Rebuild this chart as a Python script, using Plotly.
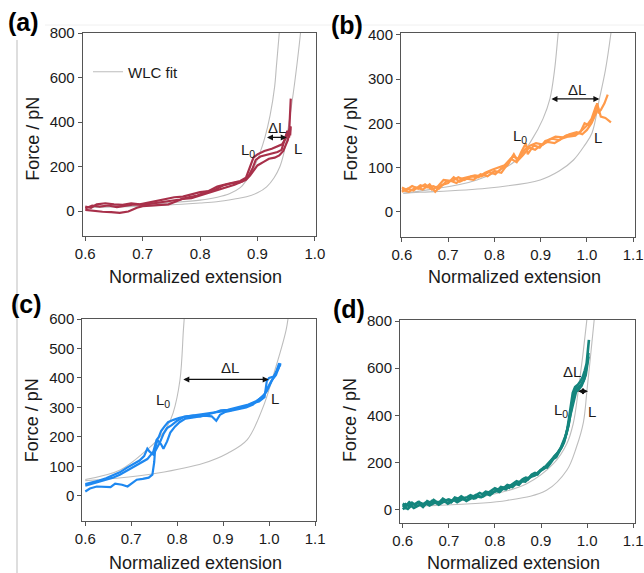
import plotly.graph_objects as go

W, H = 644, 573

# ---------------- DATA ----------------
# Panel (a) - dark red traces
a1_x = [0.600,0.615,0.630,0.645,0.660,0.675,0.690,0.700,0.715,0.730,0.745,0.760,0.770,0.785,0.800,0.815,0.830,0.845,0.860,0.875,0.885,0.892,0.897,0.905,0.915,0.925,0.935,0.942,0.948,0.952,0.955,0.957,0.958]
a1_y = [5,0,-3,-5,-8,-2,15,22,25,28,30,45,55,58,70,80,95,105,118,135,160,195,230,245,252,258,265,275,320,360,340,420,505]
a2_x = [0.600,0.610,0.620,0.635,0.650,0.665,0.680,0.695,0.710,0.725,0.740,0.755,0.770,0.785,0.800,0.815,0.830,0.845,0.860,0.870,0.880,0.888,0.893,0.900,0.912,0.925,0.935,0.943,0.950,0.955,0.958,0.957]
a2_y = [20,15,30,35,30,28,35,30,38,45,55,62,65,75,85,90,110,120,130,135,150,200,240,255,270,280,290,300,330,365,380,340]
a3_x = [0.600,0.612,0.625,0.640,0.655,0.670,0.685,0.700,0.720,0.735,0.750,0.765,0.780,0.795,0.810,0.825,0.840,0.855,0.870,0.880,0.887,0.893,0.900,0.910,0.920,0.930,0.938,0.945,0.950,0.953,0.955,0.957,0.955]
a3_y = [12,25,20,25,18,25,30,28,35,40,45,52,62,70,85,95,115,125,130,140,160,180,205,220,235,240,250,270,300,320,350,370,330]
a_wlc0_x = [0.600,0.680,0.750,0.800,0.830,0.852,0.870,0.881,0.893,0.904,0.913,0.922,0.930,0.933,0.938,0.940]
a_wlc0_y = [19,27,38,49,62,79,105,139,190,259,331,430,560,650,800,860]
a_wlc1_x = [0.600,0.700,0.742,0.800,0.829,0.860,0.881,0.900,0.916,0.929,0.939,0.946,0.951,0.958,0.966,0.975,0.977]
a_wlc1_y = [16,22,27,36,42,54,64,82,109,150,199,260,331,450,600,800,860]

# Panel (b) - orange traces
b1_x = [0.600,0.615,0.630,0.645,0.660,0.672,0.685,0.700,0.712,0.725,0.740,0.755,0.770,0.785,0.800,0.815,0.830,0.842,0.850,0.862,0.875,0.888,0.900,0.915,0.930,0.945,0.960,0.975,0.990,1.000,1.010,1.020,1.025,1.030,1.038,1.045]
b1_y = [50,45,55,50,62,45,60,65,78,68,75,72,85,80,92,88,110,130,115,128,145,140,150,158,155,165,170,172,185,195,210,240,225,230,245,265]
b2_x = [0.600,0.612,0.625,0.640,0.655,0.668,0.680,0.695,0.710,0.722,0.735,0.750,0.765,0.780,0.795,0.810,0.822,0.835,0.848,0.858,0.868,0.872,0.885,0.898,0.910,0.925,0.940,0.955,0.970,0.985,0.995,1.005,1.015,1.022,1.030,1.040,1.052]
b2_y = [45,52,48,60,55,58,52,68,70,78,72,80,78,88,95,100,105,120,112,135,155,130,150,145,160,165,162,172,175,178,200,195,215,245,215,212,202]
b3_x = [0.600,0.610,0.622,0.635,0.650,0.665,0.678,0.690,0.705,0.718,0.730,0.745,0.758,0.772,0.788,0.802,0.815,0.828,0.840,0.852,0.865,0.878,0.890,0.905,0.918,0.932,0.948,0.962,0.978,0.990,1.000,1.010,1.018,1.025]
b3_y = [55,50,58,52,62,50,58,72,70,65,75,78,82,80,90,85,98,105,125,120,140,150,155,152,163,170,168,175,180,175,185,200,220,235]
b_wlc0_x = [0.603,0.660,0.762,0.848,0.881,0.905,0.920,0.930,0.938,0.942]
b_wlc0_y = [42,50,72,117,163,210,255,320,404,440]
b_wlc1_x = [0.603,0.639,0.783,0.899,0.940,0.971,0.995,1.011,1.027,1.040,1.052,1.056]
b_wlc1_y = [42,44,53,72,92,117,150,178,255,320,404,440]

# Panel (c) - blue traces
c1_x = [0.600,0.610,0.625,0.640,0.655,0.665,0.680,0.692,0.700,0.712,0.725,0.738,0.746,0.750,0.752,0.757,0.765,0.770,0.778,0.785,0.795,0.805,0.818,0.830,0.845,0.860,0.875,0.885,0.893,0.905,0.920,0.935,0.950,0.965,0.980,0.990,0.998,1.005,1.015,1.022,1.025]
c1_y = [15,25,32,30,30,42,38,32,40,55,58,62,72,115,160,190,175,160,185,215,235,250,262,265,270,272,270,255,275,285,290,295,300,310,330,345,370,390,410,440,445]
c2_x = [0.600,0.615,0.630,0.645,0.660,0.675,0.690,0.705,0.718,0.728,0.735,0.740,0.748,0.755,0.762,0.770,0.778,0.788,0.800,0.815,0.830,0.845,0.860,0.875,0.890,0.905,0.920,0.935,0.950,0.965,0.978,0.990,0.995,1.000,1.010,1.020,1.025]
c2_y = [40,45,52,60,70,80,95,110,120,135,160,150,140,160,180,210,230,240,255,268,272,275,278,282,285,288,292,300,305,315,320,335,390,400,405,430,450]
c3_x = [0.600,0.615,0.630,0.645,0.660,0.675,0.690,0.705,0.720,0.735,0.748,0.755,0.760,0.765,0.772,0.780,0.792,0.805,0.820,0.835,0.850,0.865,0.880,0.895,0.910,0.925,0.940,0.955,0.970,0.985,0.995,1.005,1.015,1.022]
c3_y = [35,42,50,55,62,72,85,98,112,125,150,190,200,220,235,250,258,265,270,272,270,275,282,290,292,298,305,310,320,335,355,385,420,450]
c_wlc0_x = [0.600,0.676,0.734,0.760,0.778,0.791,0.806,0.8135,0.817]
c_wlc0_y = [56,88,156,195,235,281,393,563,640]
c_wlc1_x = [0.600,0.668,0.755,0.857,0.910,0.952,0.987,1.006,1.037,1.044]
c_wlc1_y = [52,60,77,111,145,190,302,393,563,640]

# Panel (d) - teal traces
d1_x = [0.600,0.606,0.613,0.620,0.627,0.633,0.640,0.647,0.653,0.660,0.667,0.673,0.680,0.687,0.693,0.700,0.707,0.713,0.720,0.727,0.733,0.740,0.747,0.753,0.760,0.767,0.773,0.780,0.787,0.793,0.800,0.807,0.813,0.820,0.827,0.833,0.840,0.847,0.853,0.860,0.867,0.873,0.880,0.887,0.893,0.900,0.907,0.913,0.920,0.927,0.933,0.940,0.946,0.952,0.957,0.961,0.965,0.969,0.974,0.980,0.986,0.991,0.995,0.999,1.002,1.004]
d1_y = [10,22,14,28,18,30,26,20,35,28,40,32,30,45,38,42,36,50,45,55,48,52,60,55,62,70,64,75,72,80,90,84,95,92,104,100,112,120,115,128,135,132,148,155,150,168,180,178,195,215,222,245,270,300,340,390,440,495,520,530,545,565,590,620,680,720]
d2_x = [0.600,0.607,0.614,0.621,0.628,0.635,0.642,0.649,0.656,0.663,0.670,0.677,0.684,0.691,0.698,0.705,0.712,0.719,0.726,0.733,0.740,0.747,0.754,0.761,0.768,0.775,0.782,0.789,0.796,0.803,0.810,0.817,0.824,0.831,0.838,0.845,0.852,0.859,0.866,0.873,0.880,0.887,0.894,0.901,0.908,0.915,0.922,0.929,0.936,0.943,0.949,0.955,0.960,0.964,0.968,0.972,0.978,0.985,0.992,0.997,1.000,1.003]
d2_y = [25,15,30,20,24,32,18,28,22,35,28,25,38,32,40,30,44,38,48,42,40,52,46,58,52,55,66,60,72,78,74,88,85,98,95,108,104,120,118,132,140,145,158,165,175,190,205,225,240,262,290,320,360,410,460,500,515,525,545,570,610,650]
d3_x = [0.600,0.605,0.611,0.618,0.624,0.631,0.638,0.644,0.651,0.658,0.664,0.671,0.678,0.684,0.691,0.698,0.704,0.711,0.718,0.724,0.731,0.738,0.744,0.751,0.758,0.764,0.771,0.778,0.784,0.791,0.798,0.804,0.811,0.818,0.824,0.831,0.838,0.844,0.851,0.858,0.864,0.871,0.878,0.884,0.891,0.898,0.904,0.911,0.918,0.924,0.931,0.938,0.944,0.950,0.955,0.959,0.963,0.967,0.971,0.976,0.982,0.988,0.994,0.998,1.001,1.003]
d3_y = [0,8,2,15,6,12,20,10,25,16,22,30,20,28,35,24,32,40,30,38,46,36,44,50,48,58,52,62,70,66,76,82,78,90,96,92,104,112,108,122,130,126,142,150,148,165,172,185,200,210,228,245,262,285,318,355,395,430,470,500,510,525,555,590,630,665]
d_wlc0_x = [0.600,0.638,0.768,0.869,0.927,0.956,0.970,0.981,0.999,1.001]
d_wlc0_y = [17,24,52,109,194,279,365,506,797,840]
d_wlc1_x = [0.600,0.674,0.826,0.912,0.956,0.977,0.992,1.000,1.015,1.017]
d_wlc1_y = [14,17,38,81,166,265,370,510,797,840]

# Axis ranges / ticks
x_ranges = [[0.5955, 1.002], [0.598, 1.104], [0.5935, 1.102], [0.594, 1.104]]
y_ranges = [[-112, 800], [-57, 404], [-85, 600], [-58, 805]]
x_ticks = [[0.6, 0.7, 0.8, 0.9, 1.0], [0.6, 0.7, 0.8, 0.9, 1.0, 1.1],
           [0.6, 0.7, 0.8, 0.9, 1.0, 1.1], [0.6, 0.7, 0.8, 0.9, 1.0, 1.1]]
y_ticks = [[0, 200, 400, 600, 800], [0, 100, 200, 300, 400],
           [0, 100, 200, 300, 400, 500, 600], [0, 200, 400, 600, 800]]
panel_labels = ["(a)", "(b)", "(c)", "(d)"]
colors = ["#A8304A", "#FF9A4A", "#1E88F0", "#14857D"]
x_title = "Normalized extension"
y_title = "Force / pN"
legend_text = "WLC fit"

# annotation anchors (data coords): dL text, arrow x0, x1, arrow y, L0 label, L label
dl_text = [(0.934, 377), (0.979, 276), (0.915, 437), (0.967, 584)]
dl_arrow = [(0.914, 0.951, 331), (0.920, 1.027, 255), (0.810, 0.999, 395), (0.977, 1.002, 502)]
l0_pos = [(0.884, 274), (0.855, 170), (0.770, 325), (0.943, 421)]
l_pos = [(0.971, 283), (1.024, 167), (1.013, 329), (1.010, 414)]

# ---------------- LAYOUT (pixel boxes) ----------------
boxes = [(82.7, 316, 33, 236), (401, 635, 33, 237), (82.3, 316, 319, 521), (400, 635, 320, 523)]
label_pos = [(23.5, 22), (347, 25), (26, 304), (349, 309)]
FONT = "Liberation Sans, Arial, sans-serif"
TXT = "#1a1a1a"
AX = "#555555"
GRAY = "#bdbdbd"

def px(x):
    return x / W

def py(y):
    return 1 - y / H

fig = go.Figure()

traces = [
    ([(a1_x, a1_y), (a2_x, a2_y), (a3_x, a3_y)], [(a_wlc0_x, a_wlc0_y), (a_wlc1_x, a_wlc1_y)]),
    ([(b1_x, b1_y), (b2_x, b2_y), (b3_x, b3_y)], [(b_wlc0_x, b_wlc0_y), (b_wlc1_x, b_wlc1_y)]),
    ([(c1_x, c1_y), (c2_x, c2_y), (c3_x, c3_y)], [(c_wlc0_x, c_wlc0_y), (c_wlc1_x, c_wlc1_y)]),
    ([(d1_x, d1_y), (d2_x, d2_y), (d3_x, d3_y)], [(d_wlc0_x, d_wlc0_y), (d_wlc1_x, d_wlc1_y)]),
]
line_widths = [2.2, 2.2, 2.2, 2.6]

annotations = []
for i, (data, wlc) in enumerate(traces):
    xa = "x" if i == 0 else f"x{i+1}"
    ya = "y" if i == 0 else f"y{i+1}"
    for j, (wx, wy) in enumerate(wlc):
        fig.add_trace(go.Scatter(x=wx, y=wy, mode="lines", line=dict(color=GRAY, width=1.1, shape="spline", smoothing=1.0),
                                 xaxis=xa, yaxis=ya, name=legend_text, showlegend=(i == 0 and j == 0),
                                 hoverinfo="skip"))
    for (dx, dy) in data:
        fig.add_trace(go.Scatter(x=dx, y=dy, mode="lines", line=dict(color=colors[i], width=line_widths[i]),
                                 xaxis=xa, yaxis=ya, showlegend=False))
    l, r, t, b = boxes[i]
    axkey = "" if i == 0 else str(i + 1)
    fig.update_layout(**{
        f"xaxis{axkey}": dict(domain=[px(l), px(r)], range=x_ranges[i], tickvals=x_ticks[i], tickformat=".1f",
                              showline=True, mirror=True, linecolor=AX, linewidth=1, ticks="outside", ticklen=4,
                              tickcolor=AX, showgrid=False, zeroline=False, anchor=ya, automargin=False,
                              tickfont=dict(size=15, color=TXT, family=FONT)),
        f"yaxis{axkey}": dict(domain=[py(b), py(t)], range=y_ranges[i], tickvals=y_ticks[i],
                              showline=True, mirror=True, linecolor=AX, linewidth=1, ticks="outside", ticklen=4,
                              tickcolor=AX, showgrid=False, zeroline=False, anchor=xa, automargin=False,
                              tickfont=dict(size=15, color=TXT, family=FONT)),
    })
    # titles
    annotations.append(dict(text=x_title, xref="paper", yref="paper", x=px((l + r) / 2 - 4), y=py(277 + (286 if i >= 2 else 0)),
                            showarrow=False, font=dict(size=18, color=TXT, family=FONT), xanchor="center", yanchor="middle"))
    annotations.append(dict(text=y_title, xref="paper", yref="paper", x=px(l - 50), y=py(139 + (281 if i >= 2 else 0)),
                            showarrow=False, textangle=-90, font=dict(size=18, color=TXT, family=FONT),
                            xanchor="center", yanchor="middle"))
    # panel label
    annotations.append(dict(text=f"<b>{panel_labels[i]}</b>", xref="paper", yref="paper",
                            x=px(label_pos[i][0]), y=py(label_pos[i][1]), showarrow=False,
                            font=dict(size=25, color="#000", family=FONT), xanchor="center", yanchor="middle"))
    # ΔL text
    annotations.append(dict(text="ΔL", x=dl_text[i][0], y=dl_text[i][1], xref=xa, yref=ya, showarrow=False,
                            font=dict(size=15, color=TXT, family=FONT)))
    # arrow
    x0, x1, ay = dl_arrow[i]
    annotations.append(dict(x=x1, y=ay, ax=x0, ay=ay, xref=xa, yref=ya, axref=xa, ayref=ya, text="",
                            showarrow=True, arrowhead=2, startarrowhead=2, arrowside="end+start",
                            arrowsize=1, arrowwidth=1.2, arrowcolor="#111"))
    annotations.append(dict(text="L<sub>0</sub>", x=l0_pos[i][0], y=l0_pos[i][1], xref=xa, yref=ya, showarrow=False,
                            font=dict(size=15, color=TXT, family=FONT)))
    annotations.append(dict(text="L", x=l_pos[i][0], y=l_pos[i][1], xref=xa, yref=ya, showarrow=False,
                            font=dict(size=15, color=TXT, family=FONT)))

fig.update_layout(
    width=W, height=H, margin=dict(l=0, r=0, t=0, b=0, autoexpand=False),
    paper_bgcolor="white", plot_bgcolor="white",
    annotations=annotations,
    showlegend=True,
    legend=dict(x=px(88), y=py(72), xanchor="left", yanchor="middle", bgcolor="rgba(0,0,0,0)",
                font=dict(size=15, color=TXT, family=FONT), itemwidth=30),
    shapes=[dict(type="line", xref="paper", yref="paper", x0=px(17), x1=px(17), y0=py(40), y1=0,
                 line=dict(color="#bdbdbd", width=1)),
            dict(type="line", xref="paper", yref="paper", x0=px(45), x1=1, y0=py(25), y1=py(25),
                 line=dict(color="#f0f0f0", width=1))],
)

fig.write_html("out.html", config={"displayModeBar": False},
               post_script="document.body.style.margin='0';document.body.style.overflow='hidden';")
